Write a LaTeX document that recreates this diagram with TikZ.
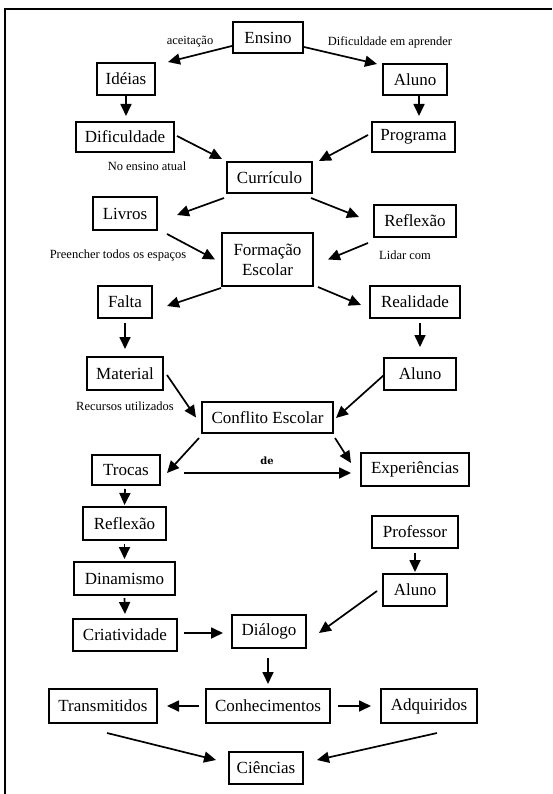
\documentclass[tikz,border=0pt]{standalone}
\usepackage{fontspec}
\setmainfont{Liberation Serif}
\newfontfamily\deffont{DejaVu Serif}
\usetikzlibrary{arrows.meta}
\begin{document}
\begin{tikzpicture}[x=1pt,y=-1pt,
  box/.style={draw, line width=2pt, inner sep=0pt, minimum height=32pt,
    font=\fontsize{17}{20}\selectfont, align=center},
  arr/.style={line width=1.7pt, -{Triangle[length=12pt,width=11pt]}},
  lbl/.style={inner sep=0pt, font=\fontsize{12.5}{14}\selectfont}]
\useasboundingbox (0,0) rectangle (552,794);
% frame
\draw[line width=2.2pt] (5,794) -- (5,9) -- (552,9);

% boxes
\node[box, minimum width=70pt, minimum height=31pt] (ensino) at (268,37.5) {Ensino};
\node[box, minimum width=58pt] (ideias) at (126,79) {Idéias};
\node[box, minimum width=64pt, minimum height=31pt] (aluno1) at (415,79.5) {Aluno};
\node[box, minimum width=98pt, minimum height=30pt] (dific) at (125,137) {Dificuldade};
\node[box, minimum width=83pt, minimum height=30pt] (programa) at (413.5,137) {Programa};
\node[box, minimum width=85pt, minimum height=31pt] (curriculo) at (269.5,177.5) {Currículo};
\node[box, minimum width=64pt, minimum height=33pt] (livros) at (125,213.5) {Livros};
\node[box, minimum width=82pt] (reflexao1) at (415,221) {Reflexão};
\node[box, minimum width=91pt, minimum height=53pt] (formacao) at (267.5,259.5) {Formação\\Escolar};
\node[box, minimum width=54pt] (falta) at (125,302) {Falta};
\node[box, minimum width=90pt] (realidade) at (415,302) {Realidade};
\node[box, minimum width=76pt, minimum height=33pt] (material) at (125,373.5) {Material};
\node[box, minimum width=72pt] (aluno2) at (420,374) {Aluno};
\node[box, minimum width=131pt, minimum height=31pt] (conflito) at (267.5,417.5) {Conflito Escolar};
\node[box, minimum width=68pt, minimum height=30pt] (trocas) at (126,470) {Trocas};
\node[box, minimum width=108pt, minimum height=33pt] (experiencias) at (415,469.5) {Experiências};
\node[box, minimum width=83pt, minimum height=33pt] (reflexao2) at (124.5,523.5) {Reflexão};
\node[box, minimum width=86pt] (professor) at (415,532) {Professor};
\node[box, minimum width=101pt, minimum height=33pt] (dinamismo) at (124.5,578.5) {Dinamismo};
\node[box, minimum width=64pt] (aluno3) at (415,590) {Aluno};
\node[box, minimum width=104pt] (criatividade) at (125,635) {Criatividade};
\node[box, minimum width=74pt, minimum height=33pt] (dialogo) at (269,631.5) {Diálogo};
\node[box, minimum width=108pt, minimum height=34pt] (transmitidos) at (103,706) {Transmitidos};
\node[box, minimum width=124pt, minimum height=34pt] (conhecimentos) at (268,706) {Conhecimentos};
\node[box, minimum width=96pt, minimum height=34pt] (adquiridos) at (429,706) {Adquiridos};
\node[box, minimum width=74pt] (ciencias) at (266,768) {Ciências};

% connector labels
\node[lbl] (l1) at (190,42) {aceitação};
\node[lbl] (l2) at (390,42) {Dificuldade em aprender};
\node[lbl] (l3) at (147,166) {No ensino atual};
\node[lbl] (l4) at (118,255) {Preencher todos os espaços};
\node[lbl] (l5) at (405,255) {Lidar com};
\node[lbl] (l6) at (125,406) {Recursos utilizados};
\node[inner sep=0pt, font=\deffont\bfseries\fontsize{10}{12}\selectfont] (l7) at (267,461) {de};

% connectors
\draw[arr] ([shift={(0,8.5)}]ensino.west) -- ([shift={(12,0)}]ideias.north east);
\draw[arr] ([shift={(0,9.5)}]ensino.east) -- ([shift={(-5,1)}]aluno1.north west);
\draw[arr, shorten >=5pt] (ideias) -- (ideias |- dific.north);
\draw[arr, shorten >=5pt] ([xshift=4pt]aluno1.south) -- ([xshift=4pt]aluno1.south |- programa.north);
\draw[arr] ([shift={(2,-1)}]dific.east) -- ([shift={(-4,-2)}]curriculo.north west);
\draw[arr] ([shift={(-3,-2)}]programa.west) -- ([shift={(6,0)}]curriculo.north east);
\draw[arr] ([shift={(-2,4)}]curriculo.south west) -- ([shift={(19,1.5)}]livros.east);
\draw[arr] ([shift={(-2,4)}]curriculo.south east) -- ([shift={(-14,-4)}]reflexao1.west);
\draw[arr] ([shift={(9,3)}]livros.south east) -- ([shift={(-6,0)}]formacao.west);
\draw[arr] ([shift={(-5,5)}]reflexao1.south west) -- ([shift={(14,0)}]formacao.east);
\draw[arr] ([shift={(0,1)}]formacao.south west) -- ([shift={(14,4)}]falta.east);
\draw[arr] ([shift={(4,0)}]formacao.south east) -- ([shift={(-8,3)}]realidade.west);
\draw[arr] ([shift={(0,4)}]falta.south) -- ([shift={(0,-7)}]material.north);
\draw[arr] ([shift={(5,4)}]realidade.south) -- ([shift={(0,-10)}]aluno2.north);
\draw[arr] ([shift={(3,1.5)}]material.east) -- ([shift={(-5,0)}]conflito.west);
\draw[arr] ([shift={(1,1)}]aluno2.west) -- ([shift={(2,0.5)}]conflito.east);
\draw[arr] ([shift={(-2,4)}]conflito.south west) -- ([shift={(6,3)}]trocas.east);
\draw[arr] ([shift={(1,4)}]conflito.south east) -- ([shift={(-9,-6.5)}]experiencias.west);
\draw[arr] ([shift={(23,3)}]trocas.east) -- ([shift={(-9,3.5)}]experiencias.west);
\draw[arr] ([shift={(-1,3)}]trocas.south) -- ([shift={(0,-1)}]reflexao2.north);
\draw[arr] ([shift={(0,3)}]reflexao2.south) -- ([shift={(0,-2)}]dinamismo.north);
\draw[arr] ([shift={(0,2)}]dinamismo.south) -- ([shift={(0,-4)}]criatividade.north);
\draw[arr] ([shift={(0,4)}]professor.south) -- ([shift={(0,-1)}]aluno3.north);
\draw[arr] ([shift={(6,-2)}]criatividade.east) -- ([shift={(-8,1.5)}]dialogo.west);
\draw[arr] ([shift={(-5,1)}]aluno3.west) -- ([shift={(12,1.5)}]dialogo.east);
\draw[arr] ([shift={(-1,9)}]dialogo.south) -- ([shift={(0,-4)}]conhecimentos.north);
\draw[arr] ([shift={(-6,0)}]conhecimentos.west) -- ([shift={(9,0)}]transmitidos.east);
\draw[arr] ([shift={(7,0)}]conhecimentos.east) -- ([shift={(-9,0)}]adquiridos.west);
\draw[arr] ([shift={(4,9)}]transmitidos.south) -- ([shift={(-12,-8)}]ciencias.west);
\draw[arr] ([shift={(8,9)}]adquiridos.south) -- ([shift={(13,-8)}]ciencias.east);
\end{tikzpicture}
\end{document}
